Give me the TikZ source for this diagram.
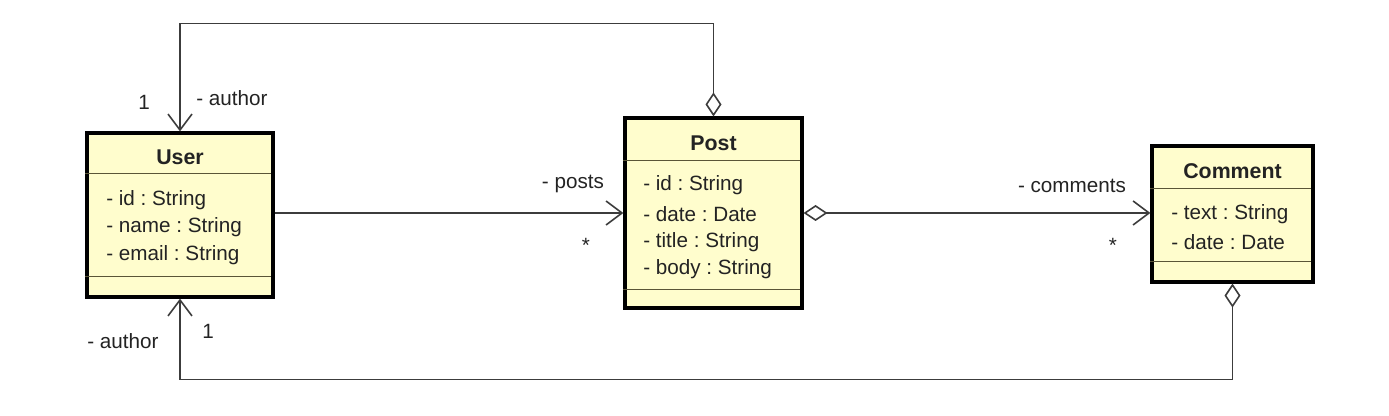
\documentclass[tikz,border=0pt]{standalone}
\usepackage{fontspec}
\setmainfont{Liberation Sans}
\usetikzlibrary{arrows.meta}
\usetikzlibrary{positioning}
\frenchspacing

\definecolor{classfill}{RGB}{255,253,205}
\definecolor{linegray}{RGB}{60,60,60}
\definecolor{textgray}{RGB}{35,35,35}
\definecolor{sepcolor}{RGB}{90,85,55}

\tikzset{
  classbox/.style={draw=black, line width=2.4pt, fill=classfill, inner sep=0pt},
  sepline/.style={draw=sepcolor, line width=1.1pt},
  cname/.style={font=\fontsize{16}{19}\selectfont\bfseries, text=textgray, inner sep=0pt},
  attr/.style={font=\fontsize{15.5}{19}\selectfont, text=textgray, anchor=west, inner sep=0pt},
  rolelabel/.style={font=\fontsize{15.5}{19}\selectfont, text=textgray, inner sep=0pt},
  assoc/.style={draw=linegray, line width=1.2pt, -{Straight Barb[length=12pt,width=18pt,line width=1.2pt]}},
  aggr/.style={assoc, {Diamond[open,length=18pt,width=12pt,line width=1.2pt,fill=white]}-{Straight Barb[length=12pt,width=18pt,line width=1.2pt]}}
}

\begin{document}
\begin{tikzpicture}[x=0.75pt,y=0.75pt,yscale=-1,xscale=1]

    \useasboundingbox (0,0) rectangle (1389,416);

    %Class: User
    \node[classbox, minimum width=139.5pt, minimum height=123pt] (user) at (180,215) {};
    \draw[sepline] (user.north west) ++(0,42) -- ++(186,0);
    \draw[sepline] (user.south west) ++(0,-22) -- ++(186,0);
    \node[cname] (usertitle) at (180,157) {User};
    \node[attr] (userid) at (106,200) {- id : String};
    \node[attr] (username) at (106,227) {- name : String};
    \node[attr] (useremail) at (106,255) {- email : String};

    %Class: Post
    \node[classbox, minimum width=132.75pt, minimum height=142.5pt] (post) at (713.5,213) {};
    \draw[sepline] (post.north west) ++(0,44) -- ++(177,0);
    \draw[sepline] (post.south west) ++(0,-20) -- ++(177,0);
    \node[cname] (posttitle) at (713.5,143) {Post};
    \node[attr] (postid) at (643,185) {- id : String};
    \node[attr] (postdate) at (643,214) {- date : Date};
    \node[attr] (posttitleattr) at (643,242) {- title : String};
    \node[attr] (postbody) at (643,269) {- body : String};

    %Class: Comment
    \node[classbox, minimum width=120.75pt, minimum height=102pt] (comment) at (1232.5,214) {};
    \draw[sepline] (comment.north west) ++(0,44) -- ++(161,0);
    \draw[sepline] (comment.south west) ++(0,-22) -- ++(161,0);
    \node[cname] (commenttitle) at (1232.5,171) {Comment};
    \node[attr] (commenttext) at (1171,214) {- text : String};
    \node[attr] (commentdate) at (1171,242) {- date : Date};

    %Connectors
    \draw[aggr] (post.north) -- ++(0,-93) -| (user.north);
    \draw[assoc] (post.west -| user.east) -- (post.west);
    \draw[aggr] (post.east) -- (post.east -| comment.west);
    \draw[aggr] (comment.south) -- ++(0,96) -| (user.south);

    %Role labels
    \node[rolelabel] (topmult) at (144,102) {1};
    \node[rolelabel] (toprole) at (232,98) {- author};
    \node[rolelabel] (postsrole) at (573,184) {- posts};
    \node[rolelabel] (postsmult) at (586,245) {*};
    \node[rolelabel] (commentsrole) at (1072,186) {- comments};
    \node[rolelabel] (commentsmult) at (1113,245) {*};
    \node[rolelabel] (bottomrole) at (123,341) {- author};
    \node[rolelabel] (bottommult) at (208,331) {1};

\end{tikzpicture}
\end{document}
